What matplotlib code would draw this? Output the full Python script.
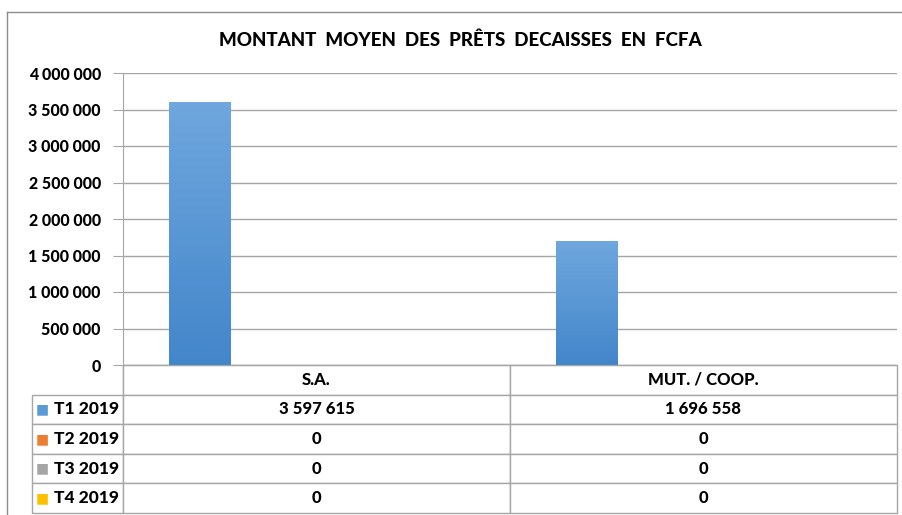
import numpy as np
import matplotlib
matplotlib.use("Agg")
import matplotlib.pyplot as plt
from matplotlib.ticker import FuncFormatter, MultipleLocator
from matplotlib.colors import LinearSegmentedColormap
from matplotlib.lines import Line2D

categories = ["S.A.", "MUT. / COOP."]
series_names = ["T1 2019", "T2 2019", "T3 2019", "T4 2019"]
values = {
    "T1 2019": [3597615, 1696558],
    "T2 2019": [0, 0],
    "T3 2019": [0, 0],
    "T4 2019": [0, 0],
}
series_colors = ["#5b9bd5", "#ed7d31", "#a5a5a5", "#ffc000"]
title = "MONTANT  MOYEN  DES  PRÊTS  DECAISSES  EN  FCFA"

FONT = "Lato"
WEIGHT = 900
GRID = "#a6a6a6"
W, H = 903, 515

def fmt(v, pos=None):
    return f"{int(round(v)):,}".replace(",", " ")

fig = plt.figure(figsize=(W / 100, H / 100), dpi=100)
ax = fig.add_axes([123 / W, 1 - 365 / H, (897 - 123) / W, (365 - 73) / H])

x = np.arange(len(categories))
bw = 0.16
offsets = [-0.30, -0.10, 0.10, 0.30]
grad = LinearSegmentedColormap.from_list("g", ["#4386ca", "#6fa7de"])
gimg = np.linspace(0, 1, 256).reshape(-1, 1)
for name, off, col in zip(series_names, offsets, series_colors):
    bars = ax.bar(x + off, values[name], width=bw, color=col, zorder=3, linewidth=0)
    for b in bars:
        if b.get_height() > 0:
            x0, y0 = b.get_x(), b.get_y()
            im = ax.imshow(gimg, cmap=grad, origin="lower", aspect="auto",
                           extent=[x0, x0 + b.get_width(), y0, y0 + b.get_height()],
                           zorder=3.5)
            im.set_clip_path(b)

ax.set_xlim(-0.5, len(categories) - 0.5)
ax.set_ylim(0, 4000000)
ax.yaxis.set_major_locator(MultipleLocator(500000))
ax.yaxis.set_major_formatter(FuncFormatter(fmt))
ax.grid(axis="y", color=GRID, linewidth=1, zorder=0)
ax.set_xticks([])
for s in ["top", "right"]:
    ax.spines[s].set_visible(False)
ax.spines["left"].set_color(GRID)
ax.spines["bottom"].set_color(GRID)
ax.tick_params(axis="y", length=7, color=GRID, pad=9, labelsize=11.5)
for lab in ax.get_yticklabels():
    lab.set_fontfamily(FONT)
    lab.set_fontweight(WEIGHT)

fig.text(460 / W, 1 - 40 / H, title, ha="center", va="center",
         fontsize=13.5, fontweight=WEIGHT, family=FONT)

# data table
cell_text = [[""] + categories]
for name in series_names:
    cell_text.append([name] + [fmt(v) for v in values[name]])
left_w = (123 - 32) / (897 - 123)
tbl = ax.table(cellText=cell_text, cellLoc="center",
               colWidths=[left_w, 0.5, 0.5],
               bbox=[-left_w, -(513 - 365) / (365 - 73), 1 + left_w, (513 - 365) / (365 - 73)])
tbl.auto_set_font_size(False)
for (r, c), cell in tbl.get_celld().items():
    cell.set_edgecolor(GRID)
    cell.set_linewidth(1)
    cell.get_text().set_fontfamily(FONT)
    cell.get_text().set_fontweight(WEIGHT)
    cell.get_text().set_fontsize(12)
    if r == 0 and c == 0:
        cell.visible_edges = "R"
    if c == 0 and r > 0:
        cell.get_text().set_text("")

# row labels with legend keys
fig.canvas.draw()
for r, (name, col) in enumerate(zip(series_names, series_colors), start=1):
    cell = tbl[r, 0]
    bb = cell.get_window_extent(fig.canvas.get_renderer()).transformed(fig.transFigure.inverted())
    yc = (bb.y0 + bb.y1) / 2
    fig.text(bb.x0 + 4 / W, yc, "■", color=col, fontsize=10, ha="left", va="center",
             family="DejaVu Sans")
    fig.text(bb.x1 - 4 / W, yc, name, ha="right", va="center", fontsize=12.5,
             fontweight=WEIGHT, family=FONT)

# chart area border
fig.add_artist(Line2D([7 / W, 1.0], [1 - 12 / H] * 2, color="#8c8c8c", lw=1, transform=fig.transFigure))
fig.add_artist(Line2D([7 / W] * 2, [0, 1 - 12 / H], color="#8c8c8c", lw=1, transform=fig.transFigure))

fig.savefig("out.png", dpi=100)
